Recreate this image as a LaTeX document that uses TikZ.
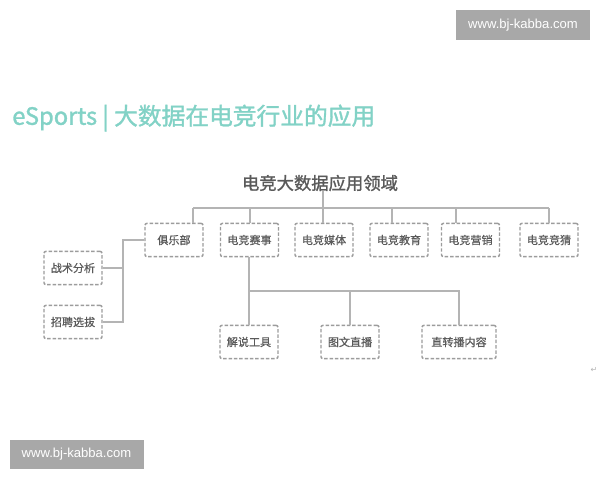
\documentclass[tikz,border=0pt]{standalone}
\usepackage{fontspec}
\setmainfont{Noto Sans CJK SC}
\newfontfamily\headfont[FakeBold=1.3]{Noto Sans CJK SC}
\newfontfamily\boxfont[FakeBold=0.6]{Noto Sans CJK SC}
\newfontfamily\wmfont{Liberation Sans}
\newfontfamily\symfont{DejaVu Sans}
\usetikzlibrary{positioning}
\definecolor{titlecol}{HTML}{82D2C6}
\definecolor{boxgray}{HTML}{9C9C9C}
\definecolor{linegray}{HTML}{B4B4B4}
\definecolor{textgray}{HTML}{5A5A5A}
\definecolor{wmgray}{HTML}{A8A8A8}

\begin{document}
\begin{tikzpicture}[x=0.75pt,y=-0.75pt,
  box/.style={draw=boxgray, dash pattern=on 2.6pt off 1.4pt, line width=1.1pt,
    rounded corners=1.5pt, fill=white, minimum width=43.5pt, minimum height=25pt,
    inner sep=4pt, text=textgray, font=\boxfont\fontsize{8.3}{9}\selectfont},
  link/.style={draw=linegray, line width=0.8pt},
  wmbox/.style={fill=wmgray, text=white, minimum width=100.5pt, minimum height=22pt,
    inner sep=0pt, font=\wmfont\fontsize{9.8}{11}\selectfont}]
  \fill[white] (0,0) rectangle (600,480);
  \useasboundingbox (0,0) rectangle (600,480);

  % watermarks
  \node[wmbox] (wmtop) at (523,25) {www.bj-kabba.com};
  \node[wmbox] (wmbottom) at (76.5,454.5) {www.bj-kabba.com};

  % title
  \node[anchor=west, inner sep=0pt, text=titlecol, font=\headfont\fontsize{17.8}{20}\selectfont]
    (title) at (12,118) {eSports | 大数据在电竞行业的应用};

  % root
  \node[inner sep=0pt, text=textgray, font=\headfont\fontsize{13}{15}\selectfont]
    (root) at (320,183) {电竞大数据应用领域};

  % first level
  \node[box] (club)   at (174,240)   {俱乐部};
  \node[box] (match)  at (249.5,240) {电竞赛事};
  \node[box] (media)  at (324,240)   {电竞媒体};
  \node[box] (edu)    at (399,240)   {电竞教育};
  \node[box] (market) at (470.5,240) {电竞营销};
  \node[box] (guess)  at (549,240)   {电竞竞猜};

  % club branch
  \node[box] (tactic)  at (73,268) {战术分析};
  \node[box] (recruit) at (73,322) {招聘选拔};

  % match branch
  \node[box] (tool)  at (249,342) {解说工具};
  \node[box] (live)  at (350,342) {图文直播};
  \node[box, minimum width=55.5pt] (relay) at (459,342) {直转播内容};

  % bus above first level
  \coordinate (top)  at (323,208);
  \coordinate (d1) at (193,208);
  \coordinate (d2) at (250,208);
  \coordinate (d4) at (392,208);
  \coordinate (d5) at (456,208);
  \coordinate (d6) at (549,208);
  \draw[link] (top |- root.south) -- (top);
  \draw[link] (d1) -- (d6);
  \draw[link] (d1) -- (d1 |- club.north);
  \draw[link] (d2) -- (d2 |- match.north);
  \draw[link] (top) -- (top |- media.north);
  \draw[link] (d4) -- (d4 |- edu.north);
  \draw[link] (d5) -- (d5 |- market.north);
  \draw[link] (d6) -- (d6 |- guess.north);

  % club to left boxes
  \coordinate (side) at (123,240);
  \draw[link] (club.west) -- (side) -- (side |- recruit.east) -- (recruit.east);
  \draw[link] (tactic.east) -- (side |- tactic.east);

  % match to bottom boxes
  \coordinate (low) at (249,291);
  \draw[link] (match.south -| low) -- (low) -- (low -| relay) -- (relay.north);
  \draw[link] (low -| live) -- (live.north);
  \draw[link] (low) -- (tool.north);

  % return mark
  \node[text=linegray, font=\symfont\fontsize{6}{7}\selectfont] (ret) at (594,370) {↵};
\end{tikzpicture}
\end{document}
